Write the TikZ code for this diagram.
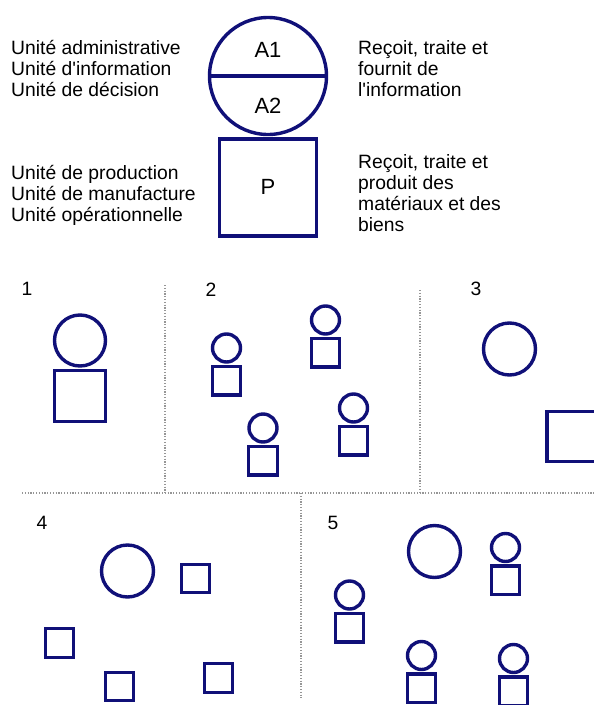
\documentclass[tikz,border=0pt]{standalone}
\usepackage{fontspec}
\newfontfamily\arialfont{Liberation Sans}
\usepackage{tikz}
\usetikzlibrary{positioning}
\definecolor{unitblue}{RGB}{16,16,120}
\definecolor{sepgray}{RGB}{150,150,150}

\begin{document}
\begin{tikzpicture}[
    x=1pt, y=-1pt,
    every node/.style={font=\arialfont\fontsize{19.3}{21}\selectfont},
    unitline/.style={draw=unitblue, line width=3.4pt},
    infocircle/.style={unitline, circle, inner sep=0pt},
    prodsquare/.style={unitline, rectangle, inner sep=0pt},
    bigcircle/.style={infocircle, minimum size=52pt},
    smallcircle/.style={infocircle, minimum size=28pt},
    smallsquare/.style={prodsquare, minimum size=28.5pt},
    unitname/.style={font=\arialfont\fontsize{22}{24}\selectfont},
    blocktext/.style={align=left, anchor=base west, inner sep=0pt},
    separator/.style={draw=sepgray, line width=1.2pt, dash pattern=on 1.2pt off 1.6pt},
]
    \useasboundingbox (0,0) rectangle (594,705);
    \fill[white] (0,0) rectangle (594,705);
    \clip (0,0) rectangle (594,705);

    % Legend: administrative unit and production unit
    \node[infocircle, minimum size=117pt] (admin) at (268,76) {};
    \draw[unitline] (admin.west) -- (admin.east);
    \node[unitname] (aone) at (268,50) {A1};
    \node[unitname] (atwo) at (268,106) {A2};
    \node[prodsquare, minimum size=97pt, below=1pt of admin, unitname] (prod) {P};

    % (base of a block = baseline of its last line)
    \node[blocktext] (admintext) at (11,96) {Unité administrative\\Unité d'information\\Unité de décision};
    \node[blocktext] (admindesc) at (358,96) {Reçoit, traite et\\fournit de\\l'information};
    \node[blocktext] (prodtext) at (11,221) {Unité de production\\Unité de manufacture\\Unité opérationnelle};
    \node[blocktext] (proddesc) at (358,231) {Reçoit, traite et\\produit des\\matériaux et des\\biens};

    % Separators between the panels
    \draw[separator] (22,493) -- (594,493);
    \draw[separator] (165,285) -- (165,493);
    \draw[separator] (420,290) -- (420,493);
    \draw[separator] (301,493) -- (301,698);

    % Panel numbers
    \node (numone) at (27,289) {1};
    \node (numtwo) at (211,290) {2};
    \node (numthree) at (476,289) {3};
    \node (numfour) at (42,523) {4};
    \node (numfive) at (333,523) {5};

    % Panel 1
    \node[infocircle, minimum size=51pt] (onecirc) at (80,340.5) {};
    \node[prodsquare, minimum size=51pt, below=1pt of onecirc] (onesq) {};

    % Panel 2
    \node[smallcircle] (twoacirc) at (226.5,348) {};
    \node[smallsquare, below=1pt of twoacirc] (twoasq) {};
    \node[smallcircle] (twobcirc) at (325.5,320) {};
    \node[smallsquare, below=1pt of twobcirc] (twobsq) {};
    \node[smallcircle] (twoccirc) at (263,428) {};
    \node[smallsquare, below=1pt of twoccirc] (twocsq) {};
    \node[smallcircle] (twodcirc) at (353.5,408) {};
    \node[smallsquare, below=1pt of twodcirc] (twodsq) {};

    % Panel 3
    \node[bigcircle] (threecirc) at (509.5,349) {};
    \node[prodsquare, minimum size=50pt] (threesq) at (572,436.5) {};

    % Panel 4
    \node[bigcircle] (fourcirc) at (127.5,571) {};
    \node[smallsquare] (fouradsq) at (195.5,578.5) {};
    \node[smallsquare] (fourbsq) at (59.5,643) {};
    \node[smallsquare] (fourcsq) at (119.5,686.5) {};
    \node[smallsquare] (fourdsq) at (218.5,678) {};

    % Panel 5
    \node[bigcircle] (fivecirc) at (434.5,551.5) {};
    \node[smallcircle] (fiveacirc) at (505.5,547.5) {};
    \node[smallsquare, below=1pt of fiveacirc] (fiveasq) {};
    \node[smallcircle] (fivebcirc) at (349.5,595) {};
    \node[smallsquare, below=1pt of fivebcirc] (fivebsq) {};
    \node[smallcircle] (fiveccirc) at (421.5,655.5) {};
    \node[smallsquare, below=1pt of fiveccirc] (fivecsq) {};
    \node[smallcircle] (fivedcirc) at (513.5,658.5) {};
    \node[smallsquare, below=1pt of fivedcirc] (fivedsq) {};
\end{tikzpicture}
\end{document}
